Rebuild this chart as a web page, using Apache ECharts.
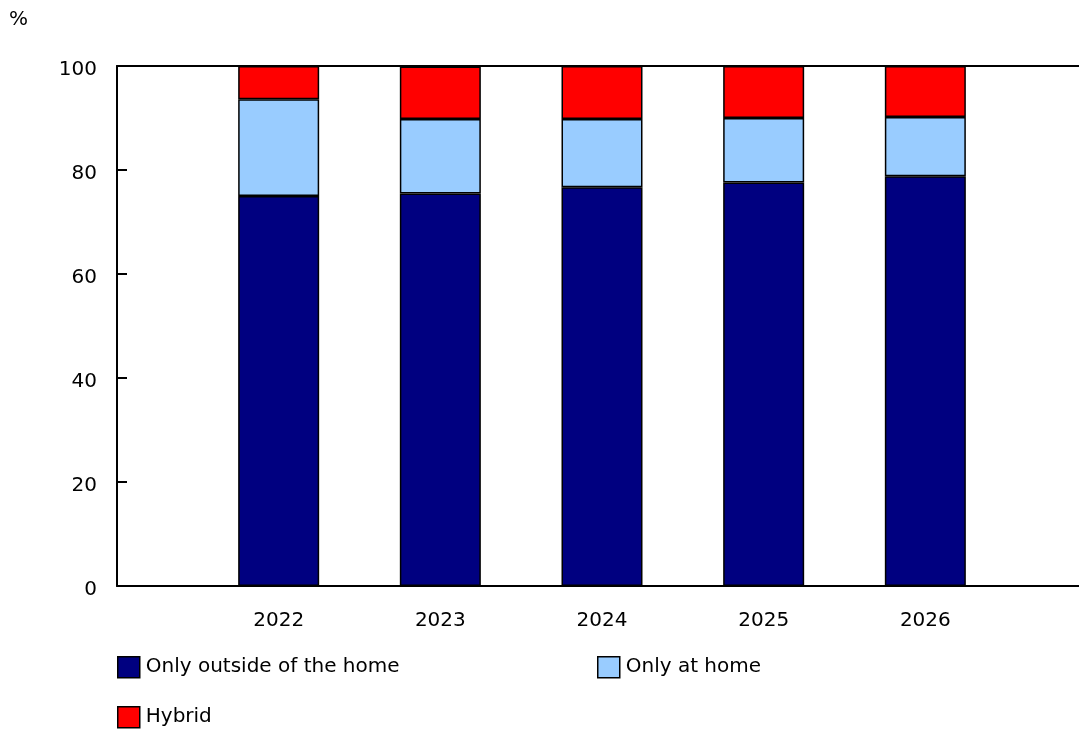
<!DOCTYPE html>
<html>
<head>
<meta charset="utf-8">
<script src="https://cdn.jsdelivr.net/npm/echarts@6/dist/echarts.min.js"></script>
<style>html,body{margin:0;padding:0;background:#fff}#c{width:1079px;height:729px}</style>
</head>
<body>
<div id="c"></div>
<script>
const categories = ['2022', '2023', '2024', '2025', '2026'];
const outsideHome = [75.0, 75.5, 76.7, 77.6, 78.8];
const atHome = [18.6, 14.3, 13.1, 12.4, 11.4];
const hybrid = [6.4, 10.1, 10.2, 10.0, 9.8];
const yTicks = [0, 20, 40, 60, 80, 100];

const FONT = 'DejaVu Sans';
const chart = echarts.init(document.getElementById('c'));
const pad = arr => [null].concat(arr, [null]);
const axisCats = [''].concat(categories, ['']);
const border = { borderColor: '#000', borderWidth: 1.5 };
const mkSeries = (name, data, color) => ({
  name, type: 'bar', stack: 'total', data: pad(data), barWidth: 81,
  itemStyle: Object.assign({ color }, border), emphasis: { disabled: true }
});
const mkLegend = (name, left, top) => ({
  data: [name], left, top, orient: 'horizontal', itemWidth: 22, itemHeight: 21,
  icon: 'rect', selectedMode: false, padding: 0,
  itemStyle: { borderColor: '#000', borderWidth: 1.5 },
  textStyle: { fontFamily: FONT, fontSize: 20, color: '#000', padding: [0, 0, 0, 1] }
});

chart.setOption({
  animation: false,
  title: { text: '%', left: 9, top: 10, padding: 0, textStyle: { fontFamily: FONT, fontSize: 20, fontWeight: 'normal', color: '#000' } },
  grid: { left: 117, width: 970, top: 66, bottom: 143, containLabel: false, outerBoundsMode: 'none' },
  legend: [
    mkLegend('Only outside of the home', 117, 656),
    mkLegend('Only at home', 597, 656),
    mkLegend('Hybrid', 117, 706)
  ],
  xAxis: [
    {
      type: 'category', data: axisCats, position: 'bottom', boundaryGap: false,
      axisLine: { lineStyle: { color: '#000', width: 2 } },
      axisTick: { show: false },
      axisLabel: { fontFamily: FONT, fontSize: 20, color: '#000', margin: 25, interval: 0 }
    },
    {
      type: 'category', data: axisCats, position: 'top', boundaryGap: false,
      axisLine: { show: true, lineStyle: { color: '#000', width: 2 } },
      axisTick: { show: false }, axisLabel: { show: false }
    }
  ],
  yAxis: {
    type: 'value', min: yTicks[0], max: yTicks[yTicks.length - 1], interval: 20,
    axisLine: { show: true, lineStyle: { color: '#000', width: 2 } },
    axisTick: { show: true, inside: true, length: 10, lineStyle: { color: '#000', width: 2 } },
    splitLine: { show: false },
    axisLabel: {
      fontFamily: FONT, fontSize: 20, color: '#000', margin: 20,
      formatter: '{a|{value}}',
      rich: { a: { fontFamily: FONT, fontSize: 20, color: '#000', padding: [8, 0, 0, 0] } }
    }
  },
  series: [
    mkSeries('Only outside of the home', outsideHome, '#000080'),
    mkSeries('Only at home', atHome, '#99CCFF'),
    mkSeries('Hybrid', hybrid, '#FF0000')
  ]
});
</script>
</body>
</html>
